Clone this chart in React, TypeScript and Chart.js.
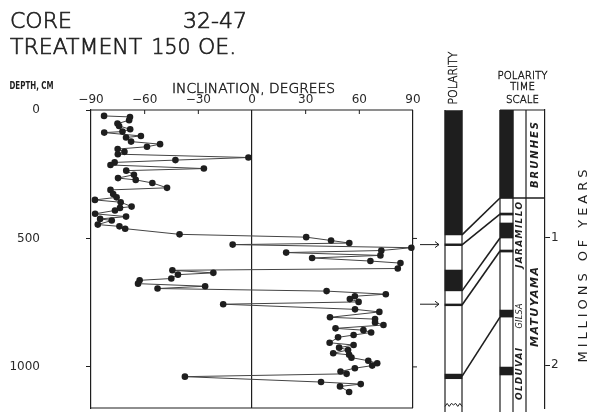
import React, { useEffect, useRef } from 'react';
import { Chart, registerables } from 'chart.js';

Chart.register(...registerables);

// ---- Data ----
const DEPTH_CM = [
  23, 27, 40, 53, 62, 75, 84, 88, 101, 107,
  123, 133, 143, 152, 163, 172, 185, 195, 204, 214,
  228, 236, 252, 265, 272, 284, 303, 311, 327, 340,
  350, 359, 376, 381, 391, 404, 415, 424, 430, 446,
  453, 462, 484, 495, 508, 518, 524, 536, 547, 555,
  566, 576, 588, 596, 617, 624, 634, 641, 656, 663,
  676, 686, 695, 705, 717, 725, 736, 747, 756, 776,
  786, 807, 814, 827, 837, 850, 857, 866, 876, 885,
  906, 915, 925, 934, 947, 953, 964, 976, 986, 995,
  1005, 1018, 1027, 1038, 1059, 1067, 1076, 1098,
];
const INCLINATION_DEG = [
  -82.7, -68.2, -68.7, -75.2, -74.3, -68.1, -72.4, -82.6, -62.1, -70.4,
  -67.6, -51.4, -58.7, -75.1, -71.3, -75.0, -2.0, -42.8, -76.8, -79.1,
  -26.9, -70.3, -66.0, -74.9, -65.0, -55.7, -47.5, -79.1, -77.6, -75.7,
  -87.8, -73.4, -67.3, -73.8, -76.6, -87.7, -70.4, -84.9, -78.4, -86.2,
  -74.1, -70.9, -40.5, 30.3, 44.2, 54.4, -10.8, 89.1, 72.3, 19.1,
  71.8, 33.6, 66.2, 83.0, 81.5, -44.5, -21.6, -41.4, -45.1, -62.8,
  -63.7, -26.2, -52.8, 41.7, 74.8, 57.5, 54.7, 59.6, -16.1, 57.6,
  71.2, 43.6, 68.8, 68.8, 73.5, 46.7, 62.3, 66.6, 56.8, 48.1,
  43.4, 56.8, 48.7, 53.7, 45.4, 54.3, 55.6, 65.0, 70.0, 67.2,
  57.5, 49.5, 52.9, -37.5, 38.6, 60.8, 49.2, 54.3,
];
const INCLINATION_TICKS = [-90, -60, -30, 0, 30, 60, 90];
const DEPTH_TICKS = [0, 500, 1000];
const MA_TICKS = [1, 2];

// normal-polarity intervals in the core (cm) and in the time scale (m.y.)
const CORE_NORMAL_CM = [[0, 486], [521, 528], [623, 704], [755, 762], [1028, 1046]];
const SCALE_NORMAL_MA = [[0, 0.69], [0.808, 0.824], [0.886, 1.004], [1.098, 1.114], [1.569, 1.624], [2.016, 2.078]];
// correlation lines: core depth (cm) -> age (m.y.)
const LINK_DEPTH_CM = [486, 525, 704, 759, 1037];
const LINK_AGE_MA = [0.69, 0.816, 1.004, 1.106, 1.624];
const ARROW_DEPTH_CM = [524, 756];
const CORE_END_CM = 1148;
const EPOCH_NAMES = ['BRUNHES', 'MATUYAMA'];
const EPOCH_LABEL_MA = [0.353, 1.545];
const EVENT_NAMES = ['JARAMILLO', 'GILSA', 'OLDUVAI'];
const EVENT_LABEL_MA = [0.98, 1.616, 2.07];

// ---- Layout / style ----
const W = 592;
const H = 412;
const INK = '#1e1e1e';
const FONT = '"DejaVu Sans", sans-serif';
const X_AXIS_MAX = 163.8; // inclination axis extends under the side panels
const POL_COL = [445, 462];
const TS_COLS = [500, 513, 526, 545];

function seg(ctx: CanvasRenderingContext2D, x1: number, y1: number, x2: number, y2: number, w = 1) {
  ctx.lineWidth = w;
  ctx.beginPath();
  ctx.moveTo(x1, y1);
  ctx.lineTo(x2, y2);
  ctx.stroke();
}

function label(ctx: CanvasRenderingContext2D, text: string, cx: number, cy: number, font: string, len = 0, rot = 0, stroke = 0) {
  ctx.save();
  ctx.translate(cx, cy);
  if (rot) ctx.rotate(rot);
  ctx.font = font;
  ctx.textBaseline = 'middle';
  ctx.textAlign = 'left';
  ctx.lineWidth = stroke;
  const w = ctx.measureText(text).width;
  const anyCtx = ctx as any;
  let x0 = -w / 2;
  if (len && len > w && text.length > 1 && 'letterSpacing' in anyCtx) {
    const sp = (len - w) / (text.length - 1);
    anyCtx.letterSpacing = sp.toFixed(2) + 'px';
    x0 = -len / 2;
  } else if (len && len < w) {
    ctx.scale(len / w, 1);
  }
  ctx.fillText(text, x0, 0);
  if (stroke) ctx.strokeText(text, x0, 0);
  anyCtx.letterSpacing = '0px';
  ctx.restore();
}

function leftText(ctx: CanvasRenderingContext2D, text: string, x: number, y: number, font: string, stroke: number) {
  ctx.save();
  ctx.font = font;
  ctx.textBaseline = 'middle';
  ctx.textAlign = 'left';
  ctx.lineWidth = stroke;
  ctx.fillText(text, x, y);
  ctx.strokeText(text, x, y);
  ctx.restore();
}

const panelPlugin = {
  id: 'panels',
  afterDraw(chart: any) {
    const { ctx, chartArea: ca, scales } = chart;
    const x = scales.x;
    const y = scales.y;
    const yt = scales.yt;
    const xp = scales.xp;
    ctx.save();
    ctx.strokeStyle = INK;
    ctx.fillStyle = INK;

    // plot frame top / bottom
    const xl = x.getPixelForValue(-90);
    const xr = x.getPixelForValue(90);
    seg(ctx, xl, ca.top, xr, ca.top, 1.2);
    seg(ctx, xl, ca.bottom, xr, ca.bottom, 1.2);
    INCLINATION_TICKS.forEach((v) => {
      if (Math.abs(v) === 90 || v === 0) return;
      const px = x.getPixelForValue(v);
      seg(ctx, px, ca.top, px, ca.top + 4, 1);
    });
    DEPTH_TICKS.forEach((d) => {
      if (d === 0) return;
      const py = y.getPixelForValue(d);
      seg(ctx, xr, py, xr + 4, py, 1);
    });

    // core polarity column
    const p0 = xp.getPixelForValue(POL_COL[0]);
    const p1 = xp.getPixelForValue(POL_COL[1]);
    const top = y.getPixelForValue(0);
    seg(ctx, p0, top, p0, H, 1.2);
    seg(ctx, p1, top, p1, H, 1.2);
    const ye = y.getPixelForValue(CORE_END_CM);
    ctx.lineWidth = 1;
    ctx.beginPath();
    for (let i = 0; i <= 8; i++) {
      const px = p0 + ((p1 - p0) * i) / 8;
      const py = ye + (i % 2 === 0 ? 1.5 : -1.5) + (i === 4 ? -1.5 : 0);
      if (i === 0) ctx.moveTo(px, py);
      else ctx.lineTo(px, py);
    }
    ctx.stroke();

    // time scale columns
    const t = TS_COLS.map((v) => xp.getPixelForValue(v));
    const tTop = yt.getPixelForValue(0);
    for (let i = 0; i < 3; i++) seg(ctx, t[i], tTop, t[i], H, 1.2);
    seg(ctx, t[0], tTop, t[3], tTop, 1.2);
    const bm = yt.getPixelForValue(SCALE_NORMAL_MA[0][1]);
    seg(ctx, t[0], bm, t[3], bm, 1.4);

    // correlation lines
    LINK_DEPTH_CM.forEach((d, i) => {
      const ya = y.getPixelForValue(d);
      const yb = yt.getPixelForValue(LINK_AGE_MA[i]);
      seg(ctx, p1, ya, t[0], yb, 1.6);
    });

    // arrows to anomalous samples
    ARROW_DEPTH_CM.forEach((d) => {
      const py = y.getPixelForValue(d);
      const ax = p0 - 6;
      seg(ctx, ax - 19, py, ax, py, 1);
      seg(ctx, ax - 4, py - 3, ax, py, 1);
      seg(ctx, ax - 4, py + 3, ax, py, 1);
    });

    // titles
    const tf = `200 22px ${FONT}`;
    leftText(ctx, 'CORE', 10, 22, tf, 0.7);
    leftText(ctx, '32-47', 183, 22, tf, 0.7);
    leftText(ctx, 'TREATMENT', 10, 48, tf, 0.7);
    label(ctx, '150', 171, 48, tf, 39, 0, 0.7);
    leftText(ctx, 'OE.', 198, 48, tf, 0.7);

    label(ctx, 'DEPTH, CM', 31.5, 86, `bold 11px ${FONT}`, 44);
    label(ctx, 'INCLINATION, DEGREES', 253.5, 89, `200 14px ${FONT}`, 163, 0, 0.5);
    label(ctx, 'POLARITY', (p0 + p1) / 2, 78, `200 12px ${FONT}`, 53, -Math.PI / 2, 0.45);
    const tsc = (t[0] + t[3]) / 2;
    label(ctx, 'POLARITY', tsc, 76, `200 11px ${FONT}`, 50, 0, 0.45);
    label(ctx, 'TIME', tsc, 87.5, `200 11px ${FONT}`, 25, 0, 0.45);
    label(ctx, 'SCALE', tsc, 100.5, `200 11px ${FONT}`, 33, 0, 0.45);
    label(ctx, 'MILLIONS OF YEARS', 584, 266, `13px ${FONT}`, 193, -Math.PI / 2);

    const epochLens = [66, 80];
    const epochSizes = [10, 11];
    EPOCH_NAMES.forEach((n, i) => {
      label(ctx, n, (t[2] + t[3]) / 2, yt.getPixelForValue(EPOCH_LABEL_MA[i]), `italic bold ${epochSizes[i]}px ${FONT}`, epochLens[i], -Math.PI / 2);
    });
    const eventLens = [66, 25, 52];
    const eventFonts = [`italic bold 9px ${FONT}`, `italic 8px ${FONT}`, `italic bold 9px ${FONT}`];
    EVENT_NAMES.forEach((n, i) => {
      label(ctx, n, (t[1] + t[2]) / 2, yt.getPixelForValue(EVENT_LABEL_MA[i]), eventFonts[i], eventLens[i], -Math.PI / 2);
    });

    ctx.restore();
  },
};

export default function App() {
  const ref = useRef<HTMLCanvasElement>(null);

  useEffect(() => {
    const canvas = ref.current;
    if (!canvas) return;
    const points = DEPTH_CM.map((d, i) => ({ x: INCLINATION_DEG[i], y: d }));
    const barFromPairs = (pairs: number[][], center: number) => pairs.map((p) => ({ x: center, y: [p[0], p[1]] }));
    const tickFont = { family: FONT, size: 12 };

    const chart = new Chart(canvas, {
      type: 'scatter',
      data: {
        datasets: [
          {
            type: 'scatter',
            data: points,
            xAxisID: 'x',
            yAxisID: 'y',
            showLine: true,
            borderColor: '#444',
            borderWidth: 1,
            pointRadius: 3.3,
            pointBackgroundColor: INK,
            pointBorderWidth: 0,
            tension: 0,
            order: 0,
          } as any,
          {
            type: 'bar',
            data: barFromPairs(CORE_NORMAL_CM, (POL_COL[0] + POL_COL[1]) / 2),
            xAxisID: 'xp',
            yAxisID: 'y',
            grouped: false,
            barThickness: POL_COL[1] - POL_COL[0],
            backgroundColor: INK,
            borderWidth: 0,
            order: 1,
          } as any,
          {
            type: 'bar',
            data: barFromPairs(SCALE_NORMAL_MA, (TS_COLS[0] + TS_COLS[1]) / 2),
            xAxisID: 'xp',
            yAxisID: 'yt',
            grouped: false,
            barThickness: TS_COLS[1] - TS_COLS[0],
            backgroundColor: INK,
            borderWidth: 0,
            order: 2,
          } as any,
        ],
      },
      options: {
        responsive: false,
        animation: false,
        events: [],
        layout: { padding: { left: 0, right: 0, top: 0, bottom: 4 } },
        plugins: {
          legend: { display: false },
          tooltip: { enabled: false },
          title: { display: false },
        },
        scales: {
          x: {
            type: 'linear',
            position: 'top',
            min: -90,
            max: X_AXIS_MAX,
            offset: false,
            afterBuildTicks: (s: any) => {
              s.ticks = INCLINATION_TICKS.map((v) => ({ value: v }));
            },
            afterFit: (s: any) => {
              s.height = 110;
              s.paddingLeft = 0;
              s.paddingRight = 0;
            },
            ticks: {
              autoSkip: false,
              maxRotation: 0,
              padding: 3,
              color: '#2a2a2a',
              font: tickFont,
              callback: (v: any) => (v < 0 ? '\u2212' + Math.abs(v) : String(v)),
            },
            grid: {
              offset: false,
              drawTicks: false,
              lineWidth: 1.2,
              color: (c: any) => (c.tick && (c.tick.value === 0 || c.tick.value === 90) ? INK : 'rgba(0,0,0,0)'),
            },
            border: { display: false },
          },
          xp: {
            type: 'linear',
            display: false,
            min: 91,
            max: 545,
            offset: false,
            grid: { offset: false },
          },
          y: {
            type: 'linear',
            position: 'left',
            reverse: true,
            min: 0,
            max: 1160,
            afterBuildTicks: (s: any) => {
              s.ticks = DEPTH_TICKS.map((v) => ({ value: v }));
            },
            afterFit: (s: any) => {
              s.width = 91;
              s.paddingTop = 0;
              s.paddingBottom = 0;
            },
            ticks: {
              autoSkip: false,
              padding: 46,
              color: '#2a2a2a',
              font: tickFont,
              callback: (v: any) => String(v),
            },
            grid: { drawOnChartArea: false, drawTicks: true, tickLength: 5, tickColor: INK, color: INK },
            border: { display: true, color: INK, width: 1.2 },
          },
          yt: {
            type: 'linear',
            position: 'right',
            reverse: true,
            min: 0,
            max: 2.337,
            afterBuildTicks: (s: any) => {
              s.ticks = MA_TICKS.map((v) => ({ value: v }));
            },
            afterFit: (s: any) => {
              s.width = W - 545;
              s.paddingTop = 0;
              s.paddingBottom = 0;
            },
            ticks: {
              autoSkip: false,
              padding: 1,
              color: '#2a2a2a',
              font: tickFont,
              callback: (v: any) => String(v),
            },
            grid: { drawOnChartArea: false, drawTicks: true, tickLength: 5, tickColor: INK, color: INK },
            border: { display: true, color: INK, width: 1.2 },
          },
        },
      } as any,
      plugins: [panelPlugin],
    });
    return () => chart.destroy();
  }, []);

  return (
    <div style={{ position: 'fixed', left: 0, top: 0, width: W, height: H, background: '#fff' }}>
      <canvas ref={ref} width={W} height={H} style={{ display: 'block', width: W, height: H }} />
    </div>
  );
}
